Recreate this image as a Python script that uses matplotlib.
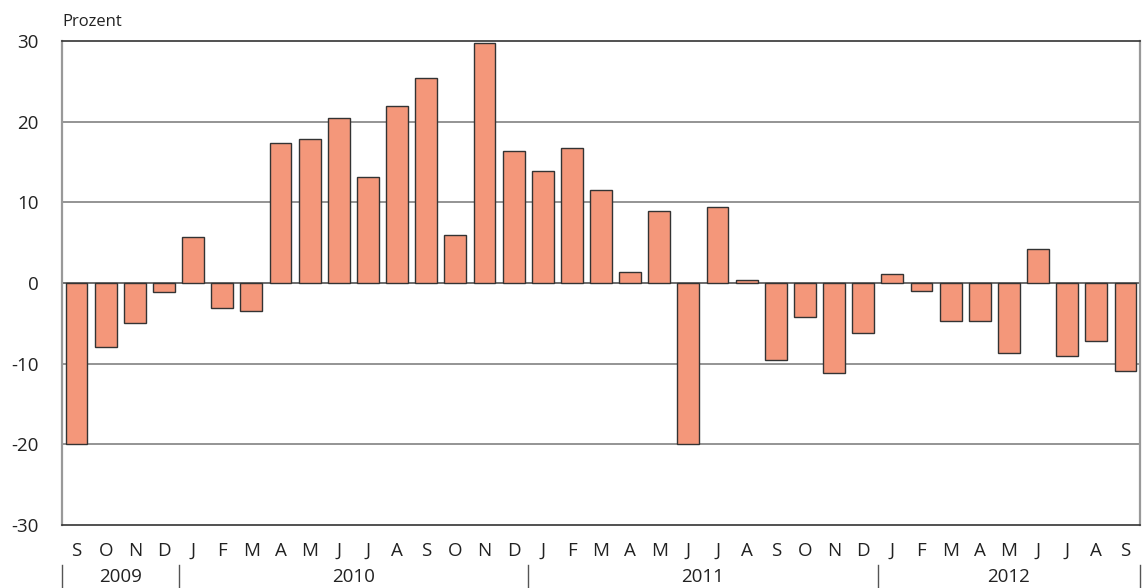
import numpy as np
import matplotlib.pyplot as plt
import matplotlib.transforms as mtransforms

plt.rcParams['font.family'] = ['Open Sans', 'DejaVu Sans']

months = ['S', 'O', 'N', 'D',
          'J', 'F', 'M', 'A', 'M', 'J', 'J', 'A', 'S', 'O', 'N', 'D',
          'J', 'F', 'M', 'A', 'M', 'J', 'J', 'A', 'S', 'O', 'N', 'D',
          'J', 'F', 'M', 'A', 'M', 'J', 'J', 'A', 'S']
values = [-19.9, -7.9, -4.9, -1.1,
          5.7, -3.1, -3.5, 17.3, 17.9, 20.5, 13.2, 22.0, 25.4, 5.9, 29.7, 16.4,
          13.9, 16.7, 11.5, 1.4, 8.9, -20.0, 9.4, 0.4, -9.5, -4.2, -11.1, -6.2,
          1.1, -1.0, -4.7, -4.7, -8.7, 4.25, -9.0, -7.15, -10.9]
years = ['2009', '2010', '2011', '2012']
year_counts = [4, 12, 12, 9]

fig = plt.figure(figsize=(11.45, 5.88), dpi=100)
ax = fig.add_axes([62 / 1145, 63 / 588, 1078 / 1145, 484 / 588])

x = np.arange(len(values))
ax.set_axisbelow(True)
for g in [-20, -10, 10, 20]:
    ax.axhline(g, color='#777777', lw=1.1, zorder=0)
ax.axhline(0, color='#444444', lw=1.1, zorder=0)
ax.bar(x, values, width=0.75, color='#F4977A', edgecolor='#333333', linewidth=1.0, zorder=2)

ax.set_xlim(-0.5, len(values) - 0.5)
ax.set_ylim(-30, 30)
ax.set_yticks([-30, -20, -10, 0, 10, 20, 30])
ax.set_yticklabels(['-30', '-20', '-10', '0', '10', '20', '30'])
ax.set_xticks(x)
ax.set_xticklabels(months)
ax.tick_params(axis='x', length=0, pad=12, labelsize=13.5, colors='#222222')
ax.tick_params(axis='y', length=0, pad=17, labelsize=13.5, colors='#222222')

for side in ['top', 'bottom']:
    ax.spines[side].set_color('#333333')
    ax.spines[side].set_linewidth(1.2)
for side in ['left', 'right']:
    ax.spines[side].set_color('#999999')
    ax.spines[side].set_linewidth(1.6)

# year labels and separators below the month labels
trans = mtransforms.blended_transform_factory(ax.transData, ax.transAxes)
start = -0.5
seps = [start]
for yr, n in zip(years, year_counts):
    end = start + n
    ax.text((start + end) / 2, -0.107, yr, transform=trans, ha='center', va='center',
            fontsize=13.5, color='#222222')
    seps.append(end)
    start = end
for s in seps:
    ax.plot([s, s], [-0.083, -0.135], transform=trans, color='#555555', lw=1, clip_on=False)

fig.text(62 / 1145, 1 - 22 / 588, 'Prozent', ha='left', va='center', fontsize=12, color='#222222')

fig.savefig('out.png', dpi=100)
